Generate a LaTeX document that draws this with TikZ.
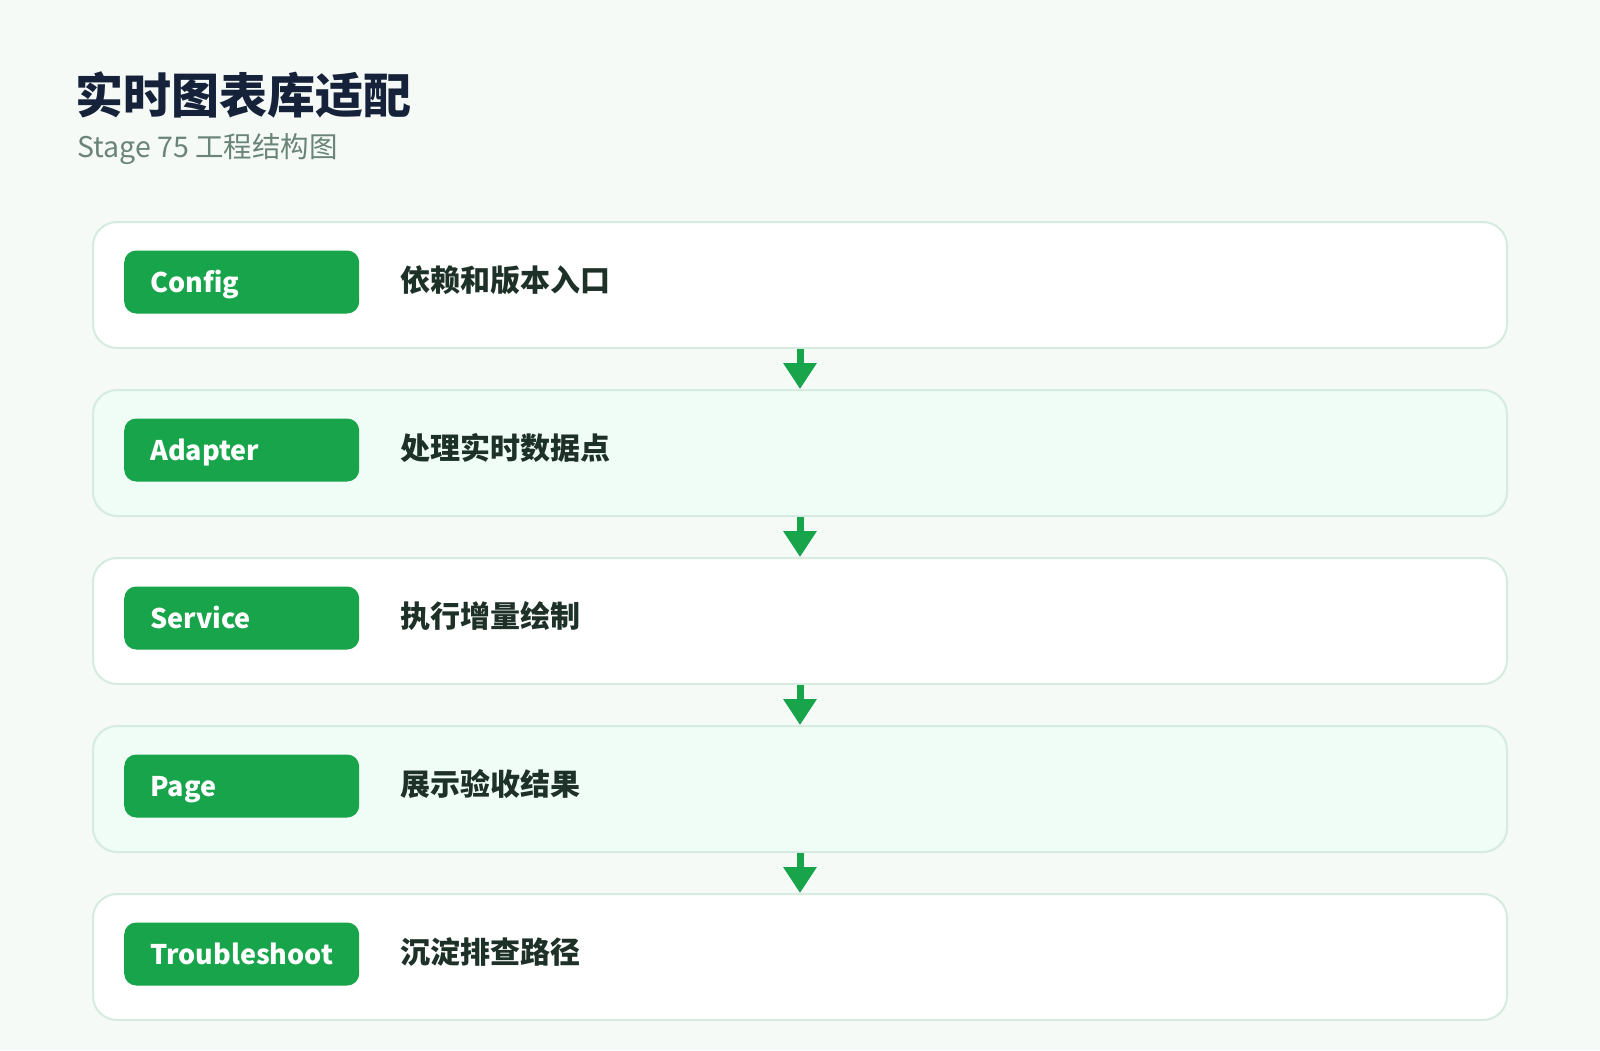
\documentclass[tikz,border=0pt]{standalone}
\usepackage{fontspec}
\setmainfont{Noto Sans CJK SC}
\usepackage{xcolor}
\usepackage{tikz}
\usetikzlibrary{positioning, arrows.meta}
\definecolor{pagebg}{HTML}{F5FAF7}
\definecolor{rowline}{HTML}{D6EBDF}
\definecolor{rowtint}{HTML}{F0FDF6}
\definecolor{pillgreen}{HTML}{18A44A}
\definecolor{titleink}{HTML}{16223A}
\definecolor{subink}{HTML}{6A8577}
\definecolor{descink}{HTML}{1E3128}
\tikzset{
	row/.style={draw=rowline, line width=2pt, rounded corners=24pt, minimum width=1414pt, minimum height=126pt, inner sep=0pt},
	tint/.style={fill=rowtint},
	plain/.style={fill=white},
	pill/.style={fill=pillgreen, rounded corners=12pt, text=white, minimum height=63pt, text width=183pt, inner xsep=26pt, inner ysep=0pt, align=left, text height=20pt, text depth=0pt, font=\fontsize{27}{30}\selectfont\bfseries},
	desc/.style={text=descink, inner sep=0pt, text height=21pt, text depth=3pt, font=\fontsize{30}{34}\selectfont\bfseries}
}

\begin{document}
\begin{tikzpicture}[
	x=1pt, y=-1pt,
	node distance=40pt,
	flow/.style={draw=pillgreen, line width=7pt, -{Triangle[width=32pt, length=26pt]}}]
	\fill[pagebg] (0,0) rectangle (1600,1050);
	\useasboundingbox (0,0) rectangle (1600,1050);
	\node[anchor=base west, inner sep=0pt, text=titleink, font=\fontsize{48}{52}\selectfont\bfseries] (title) at (75,113) {实时图表库适配};
	\node[anchor=base west, inner sep=0pt, text=subink, font=\fontsize{28.5}{32}\selectfont] (subtitle) at (77,157) {Stage 75 工程结构图};
	% rows
	\node[row, plain] (config) at (800,285) {};
	\node[row, tint, below=of config] (adapter) {};
	\node[row, plain, below=of adapter] (service) {};
	\node[row, tint, below=of service] (page) {};
	\node[row, plain, below=of page] (trouble) {};
	% tags and texts
	\node[pill, anchor=west] (configtag) at ([xshift=32pt, yshift=3pt]config.west) {Config};
	\node[desc, anchor=west, right=41pt of configtag] (configtext) {依赖和版本入口};
	\node[pill, anchor=west] (adaptertag) at ([xshift=32pt, yshift=3pt]adapter.west) {Adapter};
	\node[desc, anchor=west, right=41pt of adaptertag] (adaptertext) {处理实时数据点};
	\node[pill, anchor=west] (servicetag) at ([xshift=32pt, yshift=3pt]service.west) {Service};
	\node[desc, anchor=west, right=41pt of servicetag] (servicetext) {执行增量绘制};
	\node[pill, anchor=west] (pagetag) at ([xshift=32pt, yshift=3pt]page.west) {Page};
	\node[desc, anchor=west, right=41pt of pagetag] (pagetext) {展示验收结果};
	\node[pill, anchor=west] (troubletag) at ([xshift=32pt, yshift=3pt]trouble.west) {Troubleshoot};
	\node[desc, anchor=west, right=41pt of troubletag] (troubletext) {沉淀排查路径};
	% arrows
	\draw[flow] (config.south) -- (adapter.north);
	\draw[flow] (adapter.south) -- (service.north);
	\draw[flow] (service.south) -- (page.north);
	\draw[flow] (page.south) -- (trouble.north);
\end{tikzpicture}
\end{document}
